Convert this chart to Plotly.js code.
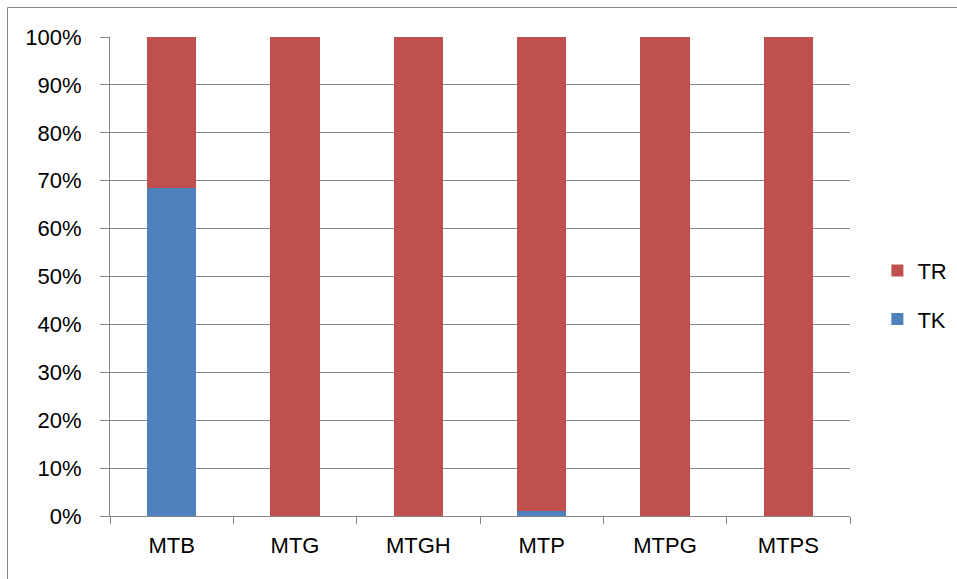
<!DOCTYPE html>
<html>
<head>
<meta charset="utf-8">
<script src="https://cdn.plot.ly/plotly-3.0.1.min.js"></script>
<style>
html,body{margin:0;padding:0;background:#fff;}
#chart{width:957px;height:579px;}
</style>
</head>
<body>
<div id="chart"></div>
<script>
const categories = ["MTB", "MTG", "MTGH", "MTP", "MTPG", "MTPS"];
const tkValues = [68.4, 0, 0, 1.0, 0, 0];
const trValues = [31.6, 100, 100, 99.0, 100, 100];
const yTickVals = [0, 10, 20, 30, 40, 50, 60, 70, 80, 90, 100];
const yTickText = ["0%", "10%", "20%", "30%", "40%", "50%", "60%", "70%", "80%", "90%", "100%"];

const FONT = "Liberation Sans, Arial, sans-serif";
const GRID = "#868686";

const traces = [
  {type: "bar", name: "TK", x: categories, y: tkValues, marker: {color: "#4F81BD"}, legendgroup: "tk", legendrank: 2, hoverinfo: "x+y"},
  {type: "bar", name: "TR", x: categories, y: trValues, marker: {color: "#C0504D"}, legendgroup: "tr", legendrank: 1, hoverinfo: "x+y"}
];

const layout = {
  width: 957, height: 579,
  margin: {l: 110, r: 107, t: 37, b: 63, autoexpand: false},
  paper_bgcolor: "#fff", plot_bgcolor: "#fff",
  barmode: "stack",
  bargap: 0.6,
  font: {family: FONT, size: 22, color: "#000"},
  showlegend: true,
  legend: {
    x: 1.037, xanchor: "left", y: 0.556, yanchor: "top",
    traceorder: "grouped", tracegroupgap: 17,
    font: {family: FONT, size: 22, color: "#000"},
    bgcolor: "rgba(0,0,0,0)", itemwidth: 30
  },
  xaxis: {
    type: "category",
    tickson: "boundaries",
    ticks: "outside", ticklen: 7, tickcolor: GRID, tickwidth: 1,
    showline: true, linecolor: GRID, linewidth: 1,
    showgrid: false,
    ticklabelstandoff: 10,
    tickfont: {family: FONT, size: 22, color: "#000"}
  },
  yaxis: {
    range: [0, 100],
    tickvals: yTickVals, ticktext: yTickText,
    ticks: "outside", ticklen: 9, tickcolor: GRID, tickwidth: 1,
    showline: true, linecolor: GRID, linewidth: 1,
    showgrid: true, gridcolor: GRID, gridwidth: 1,
    zeroline: false,
    ticklabelstandoff: 14,
    tickfont: {family: FONT, size: 22, color: "#000"}
  },
  shapes: [
    {type: "line", xref: "paper", yref: "paper", x0: (7.5-110)/740, x1: (7.5-110)/740, y0: (516-7.5)/479, y1: (516-590)/479, line: {color: GRID, width: 1}},
    {type: "line", xref: "paper", yref: "paper", x0: (7.5-110)/740, x1: (970-110)/740, y0: (516-7.5)/479, y1: (516-7.5)/479, line: {color: GRID, width: 1}}
  ]
};

Plotly.newPlot("chart", traces, layout, {displayModeBar: false, staticPlot: true});
</script>
</body>
</html>
